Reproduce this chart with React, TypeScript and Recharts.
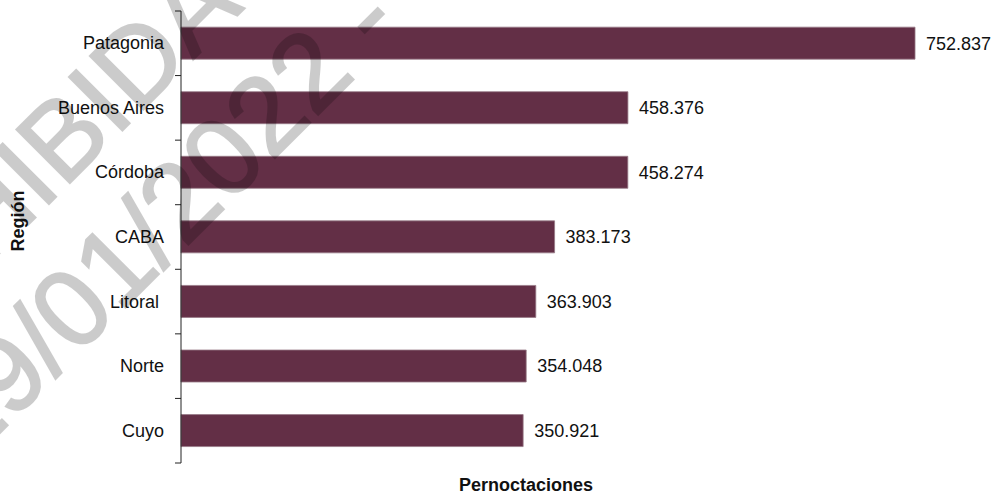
import React from "react";
import { BarChart, Bar, XAxis, YAxis, LabelList } from "recharts";

const regions = ["Patagonia", "Buenos Aires", "Córdoba", "CABA", "Litoral ", "Norte", "Cuyo"];
const pernoctaciones = [752837, 458376, 458274, 383173, 363903, 354048, 350921];
const xDomain = [0, 800000];

const data = regions.map((region, i) => ({ region, value: pernoctaciones[i] }));

const WIDTH = 1001;
const HEIGHT = 495;
const MARGIN = { top: 11, right: 40, bottom: 0, left: 0 };
const X_AXIS_H = 32;
const Y_AXIS_W = 181;
const TICK_SIZE = 6;
const TICK_MARGIN = 11;
const BAND = (HEIGHT - MARGIN.top - MARGIN.bottom - X_AXIS_H) / regions.length;

const BAR = "#632f46";
const FONT = "'Liberation Sans', Arial, Helvetica, sans-serif";

const fmt = (v: number) => String(v).replace(/\B(?=(\d{3})+(?!\d))/g, ".");

function RegionTick({ x, y, payload, index }: any) {
    const axisX = x + TICK_MARGIN + TICK_SIZE;
    const half = BAND / 2;
    return (
        <g>
            <line x1={axisX - TICK_SIZE} x2={axisX} y1={y - half} y2={y - half} stroke="#222" />
            {index === regions.length - 1 && (
                <line x1={axisX - TICK_SIZE} x2={axisX} y1={y + half} y2={y + half} stroke="#222" />
            )}
            <text
                x={x}
                y={y}
                textAnchor="end"
                dominantBaseline="central"
                fontSize={18}
                fontFamily={FONT}
                fill="#111"
                style={{ whiteSpace: "pre" }}
            >
                {payload.value}
            </text>
        </g>
    );
}

export default function App() {
    return (
        <div style={{ position: "absolute", left: 0, top: 0, width: WIDTH, height: HEIGHT, background: "#fff" }}>
            <BarChart
                width={WIDTH}
                height={HEIGHT}
                data={data}
                layout="vertical"
                margin={MARGIN}
                barCategoryGap="25%"
            >
                <XAxis
                    type="number"
                    domain={xDomain}
                    axisLine={false}
                    tickLine={false}
                    tick={false}
                    height={X_AXIS_H}
                    label={({ viewBox }: any) => (
                        <text
                            x={viewBox.x + 345}
                            y={viewBox.y + 28}
                            textAnchor="middle"
                            fontSize={18}
                            fontWeight="bold"
                            fontFamily={FONT}
                            fill="#111"
                        >
                            Pernoctaciones
                        </text>
                    )}
                />
                <YAxis
                    type="category"
                    dataKey="region"
                    width={Y_AXIS_W}
                    axisLine={{ stroke: "#222" }}
                    tickLine={{ stroke: "none" }}
                    tickSize={TICK_SIZE}
                    tickMargin={TICK_MARGIN}
                    tick={<RegionTick />}
                    interval={0}
                    label={({ viewBox }: any) => {
                        const lx = viewBox.x + 24;
                        const ly = viewBox.y + viewBox.height / 2 - 16;
                        return (
                            <text
                                x={lx}
                                y={ly}
                                transform={`rotate(-90, ${lx}, ${ly})`}
                                textAnchor="middle"
                                fontSize={18}
                                fontWeight="bold"
                                fontFamily={FONT}
                                fill="#111"
                            >
                                Región
                            </text>
                        );
                    }}
                />
                <Bar dataKey="value" fill={BAR} stroke="#977a87" strokeWidth={0.8} isAnimationActive={false}>
                    <LabelList
                        dataKey="value"
                        position="right"
                        offset={11}
                        formatter={(v: any) => fmt(Number(v))}
                        fontSize={18}
                        fontFamily={FONT}
                        fill="#111"
                    />
                </Bar>
            </BarChart>
            {/* watermark of the source image */}
            <svg
                width={WIDTH}
                height={HEIGHT}
                style={{ position: "absolute", left: 0, top: 0, pointerEvents: "none" }}
            >
                <g opacity={0.2} fill="#000" stroke="#000" strokeWidth={2} fontFamily={FONT} fontSize={110}>
                    <text x={245} y={8} textAnchor="end" transform="rotate(-45, 245, 8)">
                        PROHIBIDA
                    </text>
                    <text x={405} y={28} textAnchor="end" transform="rotate(-45, 405, 28)">
                        19/01/2022 -
                    </text>
                </g>
            </svg>
        </div>
    );
}
